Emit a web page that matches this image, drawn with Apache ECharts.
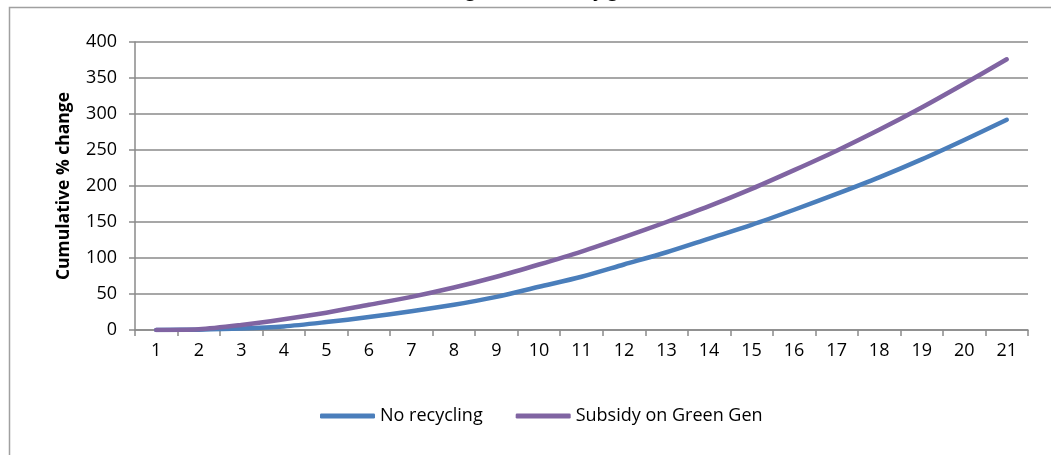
<!DOCTYPE html>
<html>
<head>
<meta charset="utf-8">
<script src="https://cdn.jsdelivr.net/npm/echarts@6/dist/echarts.min.js"></script>
<style>
  html, body { margin: 0; padding: 0; background: #ffffff; }
  #chart { width: 1051px; height: 455px; }
</style>
</head>
<body>
<div id="chart"></div>
<script>
// Years of the projection
const years = ['1','2','3','4','5','6','7','8','9','10','11','12','13','14','15','16','17','18','19','20','21'];

// Cumulative % change per scenario
const noRecycling = [0, 0.5, 2, 5, 11, 18, 26, 35, 46, 60, 74, 91, 108, 127, 146, 167, 189, 212, 237, 264, 292];
const subsidyGreenGen = [0, 1, 7, 15, 24, 35, 46, 59, 74, 91, 109, 129, 150, 172, 196, 222, 249, 278, 309, 342, 376];

const yTicks = { min: 0, max: 400, interval: 50 };

const FONT = '"Open Sans", Lato, sans-serif';
const GRID_GREY = '#8a8a8a';

const chart = echarts.init(document.getElementById('chart'), null, { renderer: 'canvas' });

chart.setOption({
  animation: false,
  backgroundColor: '#ffffff',
  textStyle: { fontFamily: FONT, color: '#000000' },
  graphic: [
    {
      type: 'rect',
      silent: true,
      shape: { x: 9.5, y: 7.5, width: 1200, height: 600 },
      style: { fill: 'none', stroke: '#a0a0a0', lineWidth: 1.5 }
    },
    {
      type: 'text',
      silent: true,
      x: 510,
      y: 1,
      style: {
        text: 'Cumulative change in electricity generation',
        font: 'bold 18px ' + FONT,
        fill: '#000000',
        align: 'center',
        verticalAlign: 'bottom'
      }
    }
  ],
  grid: { left: 135, right: 23, top: 42, bottom: 125, containLabel: false },
  legend: {
    left: 315,
    top: 402,
    itemWidth: 55,
    itemHeight: 5,
    itemGap: 33,
    icon: 'roundRect',
    textStyle: { fontFamily: FONT, fontSize: 18, color: '#000000' },
    data: ['No recycling', 'Subsidy on Green Gen']
  },
  xAxis: {
    type: 'category',
    data: years,
    boundaryGap: true,
    axisLine: { show: true, lineStyle: { color: GRID_GREY, width: 1.5 } },
    axisTick: { show: true, interval: 0, length: 6, lineStyle: { color: GRID_GREY, width: 1.5 } },
    axisLabel: { interval: 0, margin: 12, fontSize: 18, color: '#000000', fontFamily: FONT },
    splitLine: { show: false }
  },
  yAxis: {
    type: 'value',
    min: yTicks.min,
    max: yTicks.max,
    interval: yTicks.interval,
    name: 'Cumulative % change',
    nameLocation: 'middle',
    nameGap: 62,
    nameRotate: 90,
    nameTextStyle: { fontFamily: FONT, fontSize: 17.5, fontWeight: 'bold', color: '#000000' },
    axisLine: { show: true, lineStyle: { color: GRID_GREY, width: 1.5 } },
    axisTick: { show: true, length: 6, lineStyle: { color: GRID_GREY, width: 1.5 } },
    axisLabel: { margin: 18, fontSize: 18, color: '#000000', fontFamily: FONT },
    splitLine: { show: true, lineStyle: { color: GRID_GREY, width: 1.5 } }
  },
  series: [
    {
      name: 'No recycling',
      type: 'line',
      data: noRecycling,
      smooth: 0.3,
      symbol: 'none',
      color: '#4a7ebb',
      lineStyle: { width: 4.5, color: '#4a7ebb', cap: 'round', join: 'round' },
      z: 2
    },
    {
      name: 'Subsidy on Green Gen',
      type: 'line',
      data: subsidyGreenGen,
      smooth: 0.3,
      symbol: 'none',
      color: '#8064a2',
      lineStyle: { width: 4.5, color: '#8064a2', cap: 'round', join: 'round' },
      z: 3
    }
  ]
});
</script>
</body>
</html>
